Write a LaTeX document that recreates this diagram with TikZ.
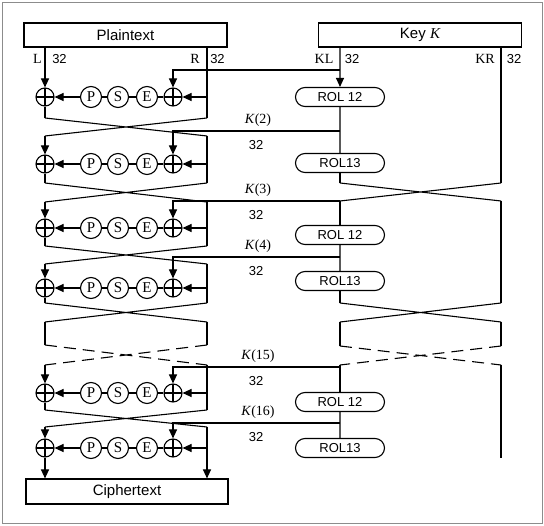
\documentclass[tikz,border=0pt]{standalone}
\usepackage{fontspec}
\setmainfont{Liberation Serif}
\setsansfont{Liberation Sans}
\usetikzlibrary{arrows.meta,shapes.misc}

\begin{document}
\begin{tikzpicture}[x=1pt,y=-1pt,line width=1.1pt,
  >={Triangle[length=9pt,width=8pt]},
  box/.style={draw,minimum width=203pt,minimum height=24pt,inner sep=0pt,
    font=\sffamily\fontsize{15}{18}\selectfont},
  xor/.style={draw,circle,minimum size=18pt,inner sep=0pt,
    path picture={\draw (path picture bounding box.north) -- (path picture bounding box.south)
      (path picture bounding box.west) -- (path picture bounding box.east);}},
  fn/.style={draw,circle,minimum size=21pt,inner sep=0pt,font=\fontsize{15}{17}\selectfont},
  rol/.style={draw,rounded rectangle,minimum width=89pt,minimum height=19pt,inner sep=0pt,
    font=\sffamily\fontsize{13}{15}\selectfont},
  lbl/.style={font=\fontsize{14}{16}\selectfont},
  num/.style={font=\sffamily\fontsize{13}{15}\selectfont},
  gap/.style={dash pattern=on 12pt off 7pt}]
\useasboundingbox (0,0) rectangle (544,526);
\draw[black!45,line width=0.8pt] (2,2) rectangle (542,523);

% input, key and output blocks
\node[box] (pt) at (125.5,35) {Plaintext};
\node[box] (key) at (420,35) {Key {\rmfamily\itshape K}};
\node[box,minimum width=202pt,minimum height=25pt] (ct) at (127,491.5) {Ciphertext};

\node[lbl] at (37.5,59) {L};
\node[num] at (59.5,59) {32};
\node[lbl] at (195,59) {R};
\node[num] at (217.5,59) {32};
\node[lbl] at (324,59) {KL};
\node[num] at (352,59) {32};
\node[lbl] at (485,59) {KR};
\node[num] at (514,59) {32};

% rounds
\foreach \i/\y in {1/97,2/164,3/228,4/288,15/393,16/448} {
  \node[xor] (xl\i) at (45,\y) {};
  \node[fn] (p\i) at (91,\y) {P};
  \node[fn] (s\i) at (118,\y) {S};
  \node[fn] (e\i) at (147,\y) {E};
  \node[xor] (xr\i) at (173,\y) {};
  \coordinate (r\i) at (207,\y);
  \draw (xr\i) -- (e\i) -- (s\i) -- (p\i);
  \draw[->] (p\i) -- (xl\i);
  \draw[->] (r\i) -- (xr\i);
}

% subkeys
\foreach \i/\k in {1/70,2/131,3/201,4/257,15/367,16/423} {
  \coordinate (k\i) at (340,\k);
  \draw[->] (k\i) -| (xr\i);
}
\foreach \i/\k in {2/131,3/201,4/257,15/367,16/423} {
  \node[lbl] at (258,\k-11) {\textit{K}(\i)};
  \node[num] at (256,\k+14) {32};
}

% rotations
\node[rol] (a1) at (340,97) {ROL 12};
\node[rol] (b2) at (340,163) {ROL13};
\node[rol] (a3) at (340,235) {ROL 12};
\node[rol] (b4) at (340,281) {ROL13};
\node[rol] (a15) at (340,402) {ROL 12};
\node[rol] (b16) at (340,448) {ROL13};

% swaps
\foreach \c/\t/\b in {1/118/136,2/183/202,3/246/264,4/303/322,d/345/365,15/410/427} {
  \coordinate (tl\c) at (45,\t);
  \coordinate (tr\c) at (207,\t);
  \coordinate (bl\c) at (45,\b);
  \coordinate (br\c) at (207,\b);
}
\foreach \c/\t/\b in {2/183/201,4/303/322,d/346/365} {
  \coordinate (ktl\c) at (340,\t);
  \coordinate (ktr\c) at (501,\t);
  \coordinate (kbl\c) at (340,\b);
  \coordinate (kbr\c) at (501,\b);
}
\foreach \c in {1,2,3,4,15}
  \draw (tl\c) -- (br\c) (tr\c) -- (bl\c);
\foreach \c in {2,4}
  \draw (ktl\c) -- (kbr\c) (ktr\c) -- (kbl\c);
\draw[gap] (tld) -- (brd) (trd) -- (bld);
\draw[gap] (ktld) -- (kbrd) (ktrd) -- (kbld);

% data path
\draw[->] (pt.south -| xl1) -- (xl1);
\draw (pt.south -| r1) -- (tr1);
\foreach \a/\b in {1/2,2/3,3/4} {
  \draw (xl\a) -- (tl\a);
  \draw[->] (bl\a) -- (xl\b);
  \draw (br\a) -- (tr\b);
}
\draw (xl4) -- (tl4);
\draw (bl4) -- (tld);
\draw (br4) -- (trd);
\draw[->] (bld) -- (xl15);
\draw (brd) -- (tr15);
\draw (xl15) -- (tl15);
\draw[->] (bl15) -- (xl16);
\draw[->] (br15) -- (ct.north -| br15);
\draw[->] (xl16) -- (ct.north -| xl16);

% key path
\coordinate (kend) at (501,458);
\draw[->] (key.south -| a1) -- (a1);
\draw (a1) -- (b2);
\draw (b2) -- (ktl2);
\draw (key.south -| ktr2) -- (ktr2);
\draw (kbl2) -- (a3);
\draw (a3) -- (b4);
\draw (b4) -- (ktl4);
\draw (kbr2) -- (ktr4);
\draw (kbl4) -- (ktld);
\draw (kbr4) -- (ktrd);
\draw (kbld) -- (a15);
\draw (a15) -- (b16);
\draw (kbrd) -- (kend);
\end{tikzpicture}
\end{document}
